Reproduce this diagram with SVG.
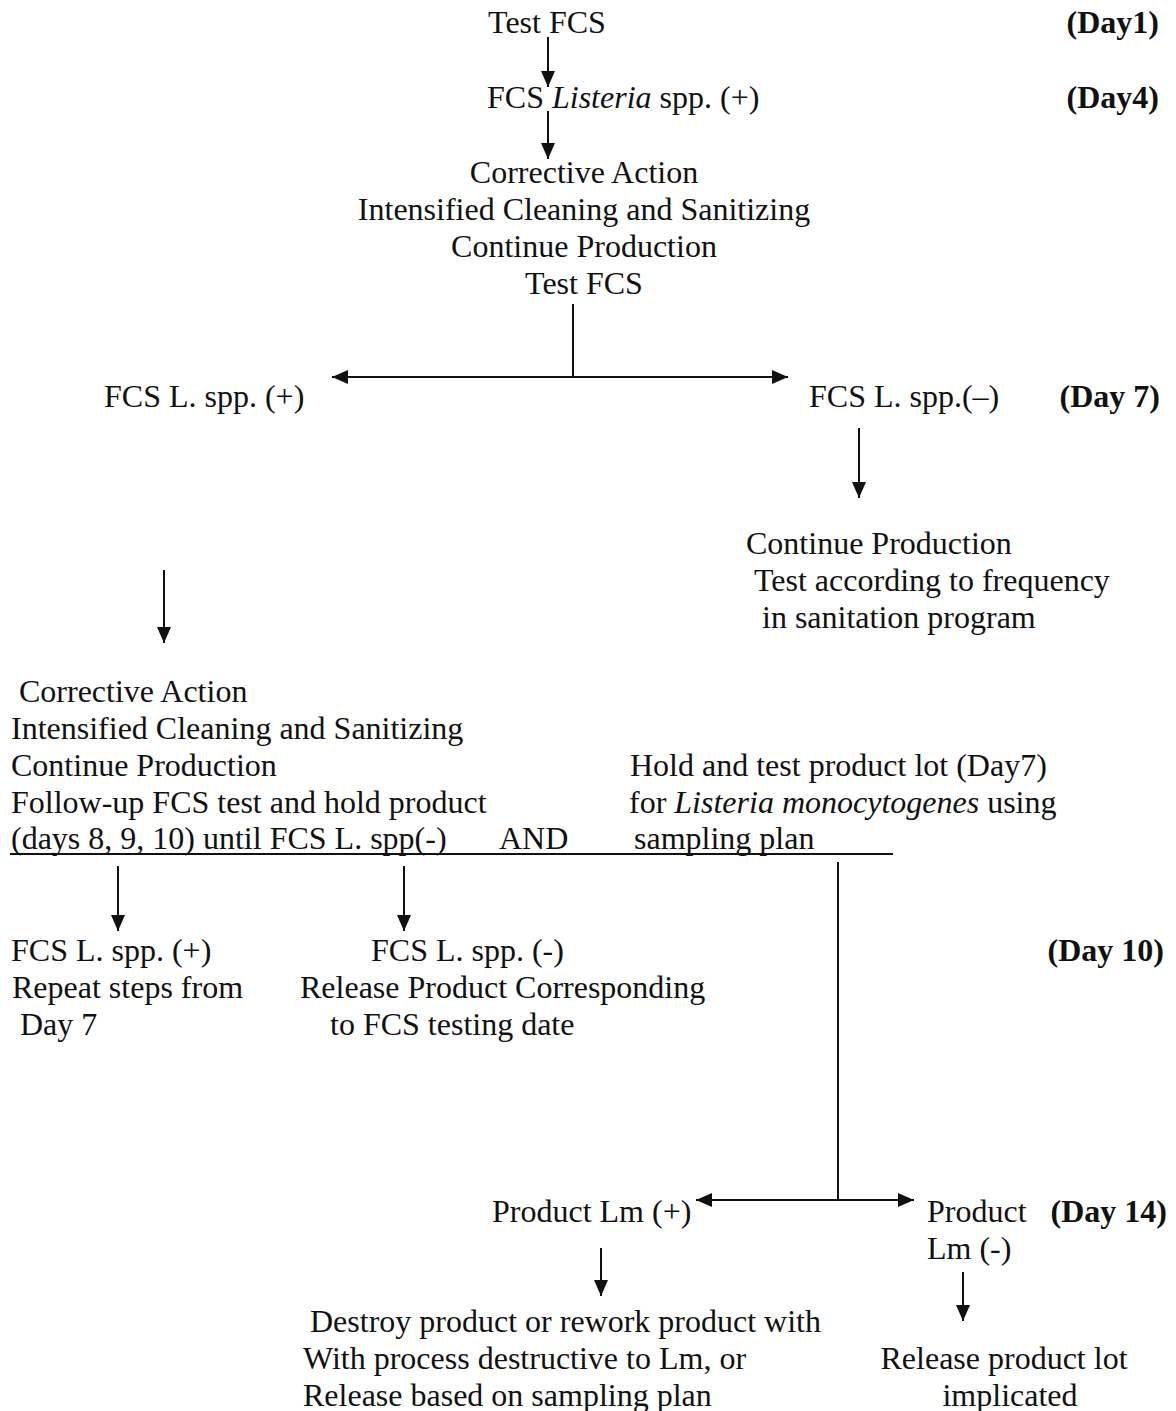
<svg xmlns="http://www.w3.org/2000/svg" width="1176" height="1411" viewBox="0 0 1176 1411">
  <defs>
    <marker id="ah" viewBox="0 0 16 14" refX="16" refY="7" markerWidth="16" markerHeight="14" markerUnits="userSpaceOnUse" orient="auto-start-reverse">
      <path d="M0,0 L16,7 L0,14 Z" fill="#111"/>
    </marker>
    <style>
      text { font-family: "Liberation Serif", "Times New Roman", serif; font-size: 32px; fill: #111; }
      .c { text-anchor: middle; }
      .day { font-weight: bold; text-anchor: end; }
      .ln { stroke: #111; stroke-width: 2; fill: none; }
      .arr { stroke: #111; stroke-width: 2; fill: none; marker-end: url(#ah); }
      .arr2 { stroke: #111; stroke-width: 2; fill: none; marker-start: url(#ah); marker-end: url(#ah); }
    </style>
  </defs>
  <rect width="1176" height="1411" fill="#ffffff"/>

  <!-- day markers -->
  <g id="days">
    <text class="day" x="1159" y="33">(Day1)</text>
    <text class="day" x="1159" y="108">(Day4)</text>
    <text class="day" x="1160" y="407">(Day 7)</text>
    <text class="day" x="1164" y="961">(Day 10)</text>
    <text class="day" x="1167" y="1222">(Day 14)</text>
  </g>

  <g id="test-fcs">
    <text class="c" x="547" y="33">Test FCS</text>
  </g>
  <g id="fcs-listeria-pos">
    <text x="487" y="108">FCS <tspan font-style="italic">Listeria</tspan> spp. (+)</text>
  </g>
  <g id="corrective-action-1">
    <text class="c" x="584" y="183">Corrective Action</text>
    <text class="c" x="584" y="220">Intensified Cleaning and Sanitizing</text>
    <text class="c" x="584" y="257">Continue Production</text>
    <text class="c" x="584" y="294">Test FCS</text>
  </g>
  <g id="fcs-pos-day7">
    <text x="104" y="407">FCS L. spp. (+)</text>
  </g>
  <g id="fcs-neg-day7">
    <text x="809" y="407">FCS L. spp.(–)</text>
  </g>
  <g id="continue-production">
    <text x="746" y="554">Continue Production</text>
    <text x="754" y="591">Test according to frequency</text>
    <text x="762" y="628">in sanitation program</text>
  </g>
  <g id="corrective-action-2">
    <text x="19" y="702">Corrective Action</text>
    <text x="11" y="739">Intensified Cleaning and Sanitizing</text>
    <text x="11" y="776">Continue Production</text>
    <text x="11" y="813">Follow-up FCS test and hold product</text>
    <text x="11" y="849">(days 8, 9, 10) until FCS L. spp(-)</text>
    <text x="499" y="849">AND</text>
  </g>
  <g id="hold-and-test">
    <text x="630" y="776">Hold and test product lot (Day7)</text>
    <text x="629" y="813">for <tspan font-style="italic">Listeria monocytogenes</tspan> using</text>
    <text x="634" y="849">sampling plan</text>
  </g>
  <g id="fcs-pos-day10">
    <text x="11" y="961">FCS L. spp. (+)</text>
    <text x="12" y="998">Repeat steps from</text>
    <text x="20" y="1035">Day 7</text>
  </g>
  <g id="fcs-neg-day10">
    <text x="371" y="961">FCS L. spp. (-)</text>
    <text x="300" y="998">Release Product Corresponding</text>
    <text x="330" y="1035">to FCS testing date</text>
  </g>
  <g id="product-lm-pos">
    <text x="492" y="1222">Product Lm (+)</text>
  </g>
  <g id="product-lm-neg">
    <text x="927" y="1222">Product</text>
    <text x="927" y="1259">Lm (-)</text>
  </g>
  <g id="destroy-or-rework">
    <text x="310" y="1332">Destroy product or rework product with</text>
    <text x="303" y="1369">With process destructive to Lm, or</text>
    <text x="303" y="1406">Release based on sampling plan</text>
  </g>
  <g id="release-lot">
    <text class="c" x="1004" y="1369">Release product lot</text>
    <text class="c" x="1010" y="1406">implicated</text>
  </g>

  <g id="connectors">
    <line class="arr" x1="548" y1="37" x2="548" y2="87"/>
    <line class="arr" x1="548" y1="111" x2="548" y2="159"/>
    <line class="ln" x1="573" y1="304" x2="573" y2="377"/>
    <line class="arr2" x1="332" y1="377" x2="788" y2="377"/>
    <line class="arr" x1="859" y1="428" x2="859" y2="498"/>
    <line class="arr" x1="164" y1="570" x2="164" y2="643"/>
    <line class="ln" x1="10" y1="854" x2="893" y2="854"/>
    <line class="arr" x1="118" y1="866" x2="118" y2="931"/>
    <line class="arr" x1="404" y1="866" x2="404" y2="931"/>
    <line class="ln" x1="838" y1="862" x2="838" y2="1200"/>
    <line class="arr2" x1="696" y1="1200" x2="914" y2="1200"/>
    <line class="arr" x1="601" y1="1248" x2="601" y2="1296"/>
    <line class="arr" x1="963" y1="1272" x2="963" y2="1321"/>
  </g>
</svg>
